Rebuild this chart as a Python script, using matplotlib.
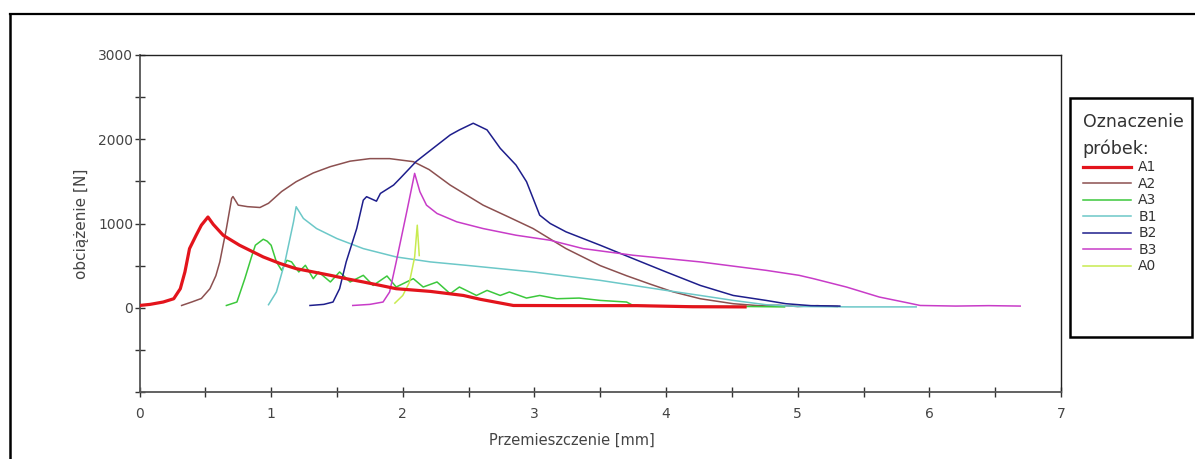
import matplotlib
matplotlib.use("Agg")
import matplotlib.pyplot as plt
from matplotlib.lines import Line2D
from matplotlib.patches import Rectangle

# przemieszczenie [mm] / obciazenie [N]
A1_x = [0.0, 0.08, 0.18, 0.26, 0.31, 0.345, 0.38, 0.43, 0.47, 0.52, 0.56, 0.636, 0.76, 0.94, 1.07, 1.19,
        1.32, 1.45, 1.57, 1.70, 1.83, 1.95, 2.21, 2.46, 2.59, 2.84, 3.3, 3.78, 4.2, 4.6]
A1_y = [27, 40, 68, 107, 226, 425, 702, 860, 980, 1077, 990, 860, 742, 603, 524, 464,
        425, 385, 345, 306, 265, 226, 194, 146, 100, 27, 25, 25, 12, 10]

A2_x = [0.32, 0.40, 0.47, 0.535, 0.58, 0.61, 0.66, 0.70, 0.71, 0.75, 0.82, 0.915, 0.98, 1.08, 1.19, 1.32,
        1.45, 1.60, 1.75, 1.90, 2.08, 2.20, 2.36, 2.61, 2.80, 2.99, 3.24, 3.50, 3.70, 3.88, 4.05, 4.26,
        4.51, 4.70, 4.85, 5.0, 5.15, 5.3]
A2_y = [27, 70, 110, 226, 380, 544, 940, 1298, 1320, 1218, 1200, 1190, 1240, 1380, 1496, 1600,
        1675, 1740, 1770, 1770, 1734, 1640, 1456, 1218, 1080, 940, 702, 500, 380, 280, 190, 107,
        48, 25, 30, 15, 25, 15]

A3_x = [0.66, 0.74, 0.80, 0.85, 0.88, 0.94, 0.97, 1.00, 1.04, 1.08, 1.12, 1.155, 1.21, 1.26, 1.32, 1.36,
        1.45, 1.52, 1.60, 1.70, 1.775, 1.88, 1.95, 2.08, 2.155, 2.26, 2.36, 2.43, 2.56, 2.64, 2.74, 2.81,
        2.94, 3.04, 3.17, 3.34, 3.50, 3.70, 3.75, 4.0, 4.3, 4.6, 4.9]
A3_y = [27, 68, 345, 600, 742, 813, 790, 742, 544, 444, 563, 544, 425, 504, 345, 425,
        306, 425, 306, 385, 265, 377, 246, 345, 246, 306, 167, 246, 146, 206, 146, 187,
        115, 146, 107, 115, 87, 68, 27, 20, 15, 15, 10]

B1_x = [0.98, 1.04, 1.105, 1.17, 1.19, 1.245, 1.345, 1.50, 1.70, 1.95, 2.21, 2.48, 2.99, 3.50, 4.0,
        4.26, 4.51, 4.76, 5.0, 5.4, 5.9]
B1_y = [36, 187, 544, 1020, 1199, 1060, 940, 821, 702, 603, 544, 504, 425, 325, 206,
        146, 87, 36, 15, 10, 10]

B2_x = [1.295, 1.40, 1.47, 1.52, 1.57, 1.65, 1.70, 1.725, 1.80, 1.83, 1.93, 1.98, 2.10, 2.23, 2.36, 2.43,
        2.535, 2.64, 2.74, 2.86, 2.94, 2.99, 3.04, 3.12, 3.24, 3.50, 3.75, 4.0, 4.26, 4.51, 4.76, 4.91,
        5.1, 5.32]
B2_y = [27, 40, 68, 226, 544, 940, 1277, 1318, 1265, 1357, 1456, 1536, 1734, 1893, 2051, 2111,
        2190, 2111, 1893, 1694, 1496, 1298, 1099, 1000, 901, 742, 583, 425, 265, 146, 87, 48,
        25, 20]

B3_x = [1.62, 1.75, 1.85, 1.90, 1.95, 2.03, 2.09, 2.13, 2.18, 2.26, 2.41, 2.61, 2.86, 3.12, 3.37, 3.75,
        4.26, 4.76, 5.01, 5.12, 5.37, 5.62, 5.83, 5.93, 6.2, 6.45, 6.69]
B3_y = [27, 40, 68, 187, 544, 1139, 1595, 1377, 1218, 1119, 1020, 940, 861, 801, 702, 623,
        544, 444, 385, 345, 246, 127, 60, 27, 20, 25, 20]

A0_x = [1.94, 2.0, 2.05, 2.09, 2.11, 2.125]
A0_y = [55, 146, 300, 600, 980, 620]

labels = ["A1", "A2", "A3", "B1", "B2", "B3", "A0"]
colors = ["#e3141c", "#8c5050", "#3cc83c", "#6cc8c8", "#1e1e8c", "#c83cc8", "#c8eb50"]

plt.rcParams['font.family'] = ['DejaVu Sans']

fig = plt.figure(figsize=(11.95, 4.59), dpi=100)
fig.patch.set_facecolor("white")
ax = fig.add_axes([139.5 / 1195, 67 / 459, 921.5 / 1195, 337 / 459])

series = [(A1_x, A1_y), (A2_x, A2_y), (A3_x, A3_y), (B1_x, B1_y), (B2_x, B2_y), (B3_x, B3_y), (A0_x, A0_y)]
handles = []
for i, (xs, ys) in enumerate(series):
    lw = 2.3 if labels[i] == "A1" else 1.1
    z = 5 if labels[i] == "A1" else 3
    h, = ax.plot(xs, ys, color=colors[i], lw=lw, zorder=z, label=labels[i])
    handles.append(h)

ax.set_xlim(0, 7)
ax.set_ylim(-1000, 3000)
ax.set_xticks(range(0, 8))
ax.set_xticks([i + 0.5 for i in range(7)], minor=True)
ax.set_yticks([-1000, 0, 1000, 2000, 3000])
ax.set_yticklabels(["", "0", "1000", "2000", "3000"])
ax.set_yticks([-500, 500, 1500, 2500], minor=True)
ax.tick_params(which="both", direction="inout", length=7, width=1, color="#333333")
ax.tick_params(axis="x", pad=7, labelsize=10, labelcolor="#444444")
ax.tick_params(axis="y", pad=1, labelsize=10, labelcolor="#444444")

for side in ["left", "bottom"]:
    ax.spines[side].set_color("#555555")
    ax.spines[side].set_linewidth(1.3)
for side in ["top", "right"]:
    ax.spines[side].set_color("#222222")
    ax.spines[side].set_linewidth(1.0)

fig.text(82 / 1195, 1 - 223.5 / 459, "obciążenie [N]", rotation=90, ha="center", va="center",
         fontsize=11, color="#444444")
fig.text(572 / 1195, 1 - 440 / 459, "Przemieszczenie [mm]", ha="center", va="center",
         fontsize=10.5, color="#444444")

# outer frame (cut by the image edge)
fig.add_artist(Line2D([10 / 1195, 1], [1 - 14 / 459, 1 - 14 / 459], transform=fig.transFigure,
                      color="black", lw=1.6))
fig.add_artist(Line2D([10 / 1195, 10 / 1195], [0, 1 - 14 / 459], transform=fig.transFigure,
                      color="black", lw=1.8))

# legend box
fig.add_artist(Rectangle((1070 / 1195, 1 - 337 / 459), 122 / 1195, 239 / 459, transform=fig.transFigure,
                         fill=False, ec="black", lw=1.8))
leg = fig.legend(handles=handles, labels=labels, loc="upper left",
                 bbox_to_anchor=(1080 / 1195, 1 - 110 / 459), frameon=False, fontsize=10,
                 title="Oznaczenie\npróbek:", title_fontsize=12.5, alignment="left",
                 handlelength=3.5, handletextpad=0.5, labelspacing=0.18, borderaxespad=0,
                 borderpad=0.2)
for t in leg.get_texts():
    t.set_color("#333333")
leg.get_title().set_color("#333333")
leg.get_title().set_linespacing(1.6)

fig.savefig("out.png", dpi=100, facecolor="white")
